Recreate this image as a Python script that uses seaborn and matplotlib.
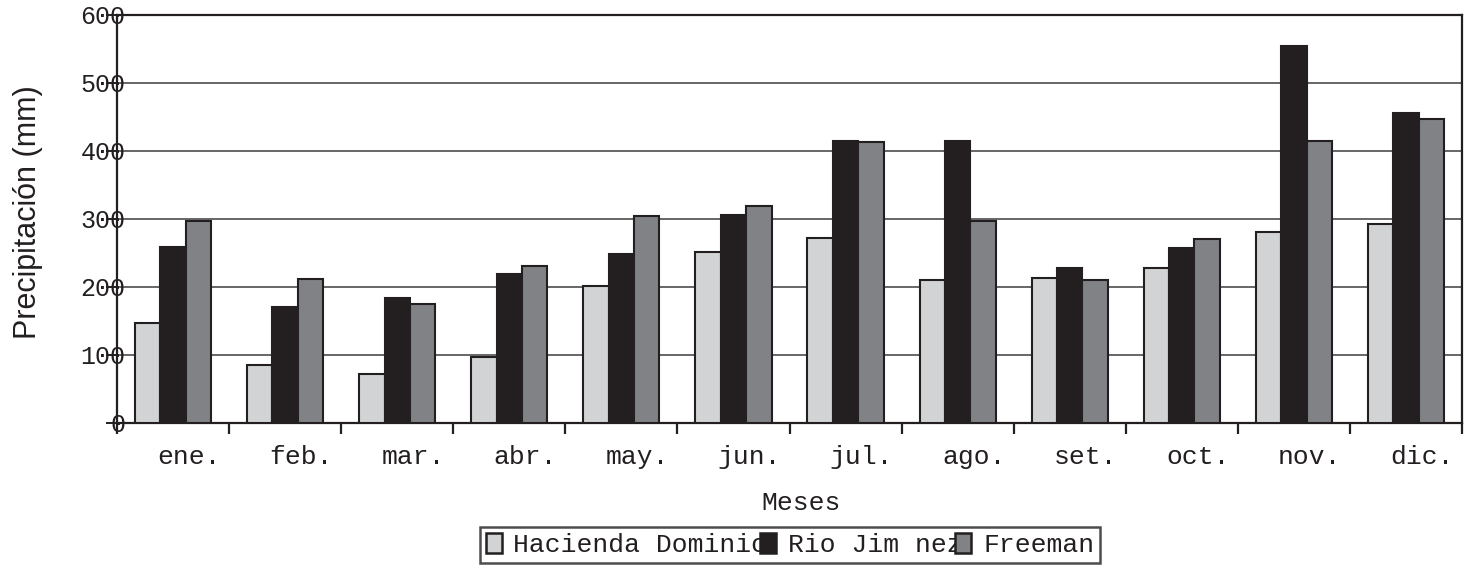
import matplotlib
matplotlib.use("Agg")
import matplotlib.pyplot as plt
import matplotlib.transforms as mtransforms
from matplotlib.patches import Patch
from matplotlib.ticker import FixedLocator
import pandas as pd
import seaborn as sns

# Monthly precipitation (mm) at three stations
months = ["ene.", "feb.", "mar.", "abr.", "may.", "jun.",
          "jul.", "ago.", "set.", "oct.", "nov.", "dic."]
stations = ["Hacienda Dominio", "Rio Jim nez", "Freeman"]
hacienda = [147, 85, 72, 97, 201, 251, 272, 210, 213, 227, 281, 293]
rio = [259, 170, 183, 219, 248, 305, 415, 415, 228, 257, 555, 456]
freeman = [296, 212, 175, 230, 304, 319, 413, 296, 210, 270, 415, 447]
y_ticks = [0, 100, 200, 300, 400, 500, 600]

colors = ["#d1d3d4", "#231f20", "#808285"]
ink = "#231f20"

df = pd.DataFrame({
    "mes": months * 3,
    "estacion": [s for s in stations for _ in months],
    "pp": hacienda + rio + freeman,
})

sns.set_theme(style="white")
plt.rcParams["font.family"] = ["Liberation Mono", "DejaVu Sans Mono"]

fig = plt.figure(figsize=(14.64, 5.71), dpi=100)
ax = fig.add_axes([117 / 1464, 1 - 422.5 / 571, 1345 / 1464, 407.5 / 571])

sns.barplot(data=df, x="mes", y="pp", hue="estacion", order=months,
            hue_order=stations, palette=colors, width=0.68, gap=0,
            edgecolor=ink, linewidth=1.5, saturation=1, ax=ax,
            legend=False, zorder=3)
ax.set_xlim(-0.5, 11.5)
ax.set_ylim(0, 600)

# grid and frame
ax.set_yticks(y_ticks)
ax.set_yticklabels([str(v) for v in y_ticks])
ax.yaxis.grid(True, color="#4d4d4d", linewidth=1.2, zorder=0)
ax.xaxis.grid(False)
for sp in ax.spines.values():
    sp.set_visible(True)
    sp.set_color(ink)
    sp.set_linewidth(1.6)

# ticks
ax.tick_params(axis="y", which="major", direction="out", length=8, width=1.4,
               color=ink, labelsize=18, labelcolor=ink, pad=-14, left=True)
for lab in ax.get_yticklabels():
    lab.set_horizontalalignment("right")

ax.xaxis.set_minor_locator(FixedLocator([i - 0.5 for i in range(13)]))
ax.tick_params(axis="x", which="minor", direction="out", length=8, width=1.6,
               color=ink, bottom=True)
ax.tick_params(axis="x", which="major", length=0, pad=16, labelsize=19,
               labelcolor=ink)
offset = mtransforms.ScaledTranslation(16 / 100, 0, fig.dpi_scale_trans)
for lab in ax.get_xticklabels():
    lab.set_transform(lab.get_transform() + offset)

# axis titles
ax.set_ylabel("Precipitación (mm)", family=["Liberation Sans", "DejaVu Sans"],
              fontsize=22, color=ink)
ax.yaxis.set_label_coords((28 - 117) / 1345, (422.5 - 212.5) / 407.5)
ax.yaxis.label.set_verticalalignment("center")
ax.set_xlabel("Meses", fontsize=19, color=ink)
ax.xaxis.set_label_coords((801 - 117) / 1345, (422.5 - 503) / 407.5)
ax.xaxis.label.set_verticalalignment("center")

# legend
handles = [Patch(facecolor=c, edgecolor=ink, linewidth=1.8) for c in colors]
leg = fig.legend(handles, stations, loc="center",
                 bbox_to_anchor=(790 / 1464, 1 - 545 / 571), ncol=3,
                 prop={"family": "Liberation Mono", "size": 19},
                 handlelength=0.6, handleheight=0.8, handletextpad=0.45,
                 columnspacing=-0.27, borderpad=0.22, borderaxespad=0,
                 frameon=True, fancybox=False, labelcolor=ink)
leg.get_frame().set_edgecolor(ink)
leg.get_frame().set_linewidth(1.8)

fig.savefig("out.png", dpi=100)
